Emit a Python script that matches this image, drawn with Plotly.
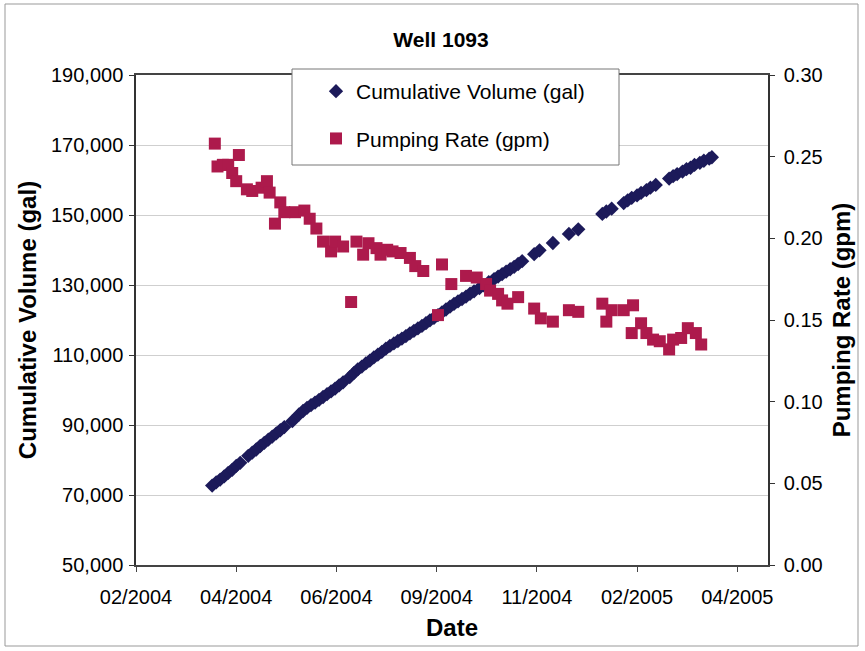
import plotly.graph_objects as go

# Cumulative metered volume (gal) at each reading date
volume_dates = [
    "2004-03-29", "2004-04-01", "2004-04-04", "2004-04-07", "2004-04-10", "2004-04-13",
    "2004-04-16", "2004-04-19", "2004-04-25", "2004-04-28", "2004-05-01", "2004-05-04",
    "2004-05-07", "2004-05-10", "2004-05-13", "2004-05-16", "2004-05-19", "2004-05-22",
    "2004-05-28", "2004-06-02", "2004-06-05", "2004-06-08", "2004-06-11", "2004-06-14",
    "2004-06-17", "2004-06-20", "2004-06-23", "2004-06-26", "2004-06-29", "2004-07-02",
    "2004-07-05", "2004-07-10", "2004-07-13", "2004-07-16", "2004-07-19", "2004-07-22",
    "2004-07-25", "2004-07-28", "2004-07-31", "2004-08-03", "2004-08-06", "2004-08-09",
    "2004-08-12", "2004-08-15", "2004-08-18", "2004-08-21", "2004-08-24", "2004-08-27",
    "2004-08-30", "2004-09-02", "2004-09-05", "2004-09-08", "2004-09-11", "2004-09-14",
    "2004-09-17", "2004-09-20", "2004-09-23", "2004-09-26", "2004-09-29", "2004-10-02",
    "2004-10-05", "2004-10-08", "2004-10-11", "2004-10-15", "2004-10-18", "2004-10-22",
    "2004-10-26", "2004-10-29", "2004-11-01", "2004-11-04", "2004-11-07", "2004-11-10",
    "2004-11-13", "2004-11-16", "2004-11-25", "2004-11-29", "2004-12-09", "2004-12-21",
    "2004-12-28", "2005-01-15", "2005-01-18", "2005-01-22", "2005-01-31", "2005-02-03",
    "2005-02-06", "2005-02-10", "2005-02-13", "2005-02-17", "2005-02-20", "2005-02-24",
    "2005-03-06", "2005-03-09", "2005-03-12", "2005-03-16", "2005-03-19", "2005-03-22",
    "2005-03-25", "2005-03-29", "2005-04-01", "2005-04-05", "2005-04-07",
]
volume_gal = [
    72700, 73600, 74400, 75300, 76300, 77200,
    78300, 79200, 81200, 82100, 83000, 84000,
    84900, 85800, 86700, 87600, 88500, 89400,
    91100, 93000, 94000, 94900, 95700, 96400,
    97200, 98000, 98800, 99600, 100400, 101300,
    102200, 103700, 104800, 105900, 106700, 107600,
    108400, 109300, 110100, 110900, 111800, 112600,
    113300, 114000, 114700, 115400, 116200, 116900,
    117600, 118300, 119100, 119900, 120600, 121400,
    122200, 123000, 123800, 124600, 125300, 126000,
    126700, 127500, 128200, 129100, 129900, 130800,
    131700, 132400, 133100, 133800, 134500, 135200,
    136000, 136800, 138800, 139900, 142000, 144600,
    145900, 150300, 151000, 151800, 153400, 154200,
    154900, 155600, 156300, 157100, 157800, 158600,
    160400, 161100, 161700, 162400, 163100, 163500,
    164300, 164900, 165500, 166100, 166500,
]

# Average pumping rate (gpm) between readings
rate_dates = [
    "2004-03-31", "2004-04-02", "2004-04-06", "2004-04-10", "2004-04-13", "2004-04-16",
    "2004-04-18", "2004-04-24", "2004-04-28", "2004-05-05", "2004-05-09", "2004-05-11",
    "2004-05-15", "2004-05-19", "2004-05-22", "2004-05-30", "2004-06-06", "2004-06-10",
    "2004-06-15", "2004-06-20", "2004-06-26", "2004-06-29", "2004-07-05", "2004-07-11",
    "2004-07-15", "2004-07-20", "2004-07-24", "2004-07-30", "2004-08-02", "2004-08-07",
    "2004-08-11", "2004-08-17", "2004-08-24", "2004-08-28", "2004-09-03", "2004-09-14",
    "2004-09-17", "2004-09-24", "2004-10-05", "2004-10-13", "2004-10-20", "2004-10-23",
    "2004-10-29", "2004-11-01", "2004-11-05", "2004-11-13", "2004-11-25", "2004-11-30",
    "2004-12-09", "2004-12-21", "2004-12-28", "2005-01-15", "2005-01-18", "2005-01-22",
    "2005-01-31", "2005-02-06", "2005-02-07", "2005-02-13", "2005-02-17", "2005-02-22",
    "2005-02-27", "2005-03-06", "2005-03-09", "2005-03-15", "2005-03-20", "2005-03-26",
    "2005-03-30",
]
rate_gpm = [
    0.258, 0.244, 0.245, 0.245, 0.240, 0.235,
    0.251, 0.230, 0.229, 0.231, 0.235, 0.228,
    0.209, 0.222, 0.216, 0.216, 0.217, 0.212,
    0.206, 0.198, 0.192, 0.198, 0.195, 0.161,
    0.198, 0.190, 0.197, 0.194, 0.190, 0.193,
    0.192, 0.191, 0.188, 0.183, 0.180, 0.153,
    0.184, 0.172, 0.177, 0.176, 0.172, 0.168,
    0.166, 0.162, 0.160, 0.164, 0.157, 0.151,
    0.149, 0.156, 0.155, 0.160, 0.149, 0.156,
    0.156, 0.142, 0.159, 0.148, 0.142, 0.138,
    0.137, 0.132, 0.138, 0.139, 0.145, 0.142,
    0.135,
]

date_start, date_end = "2004-02-01", "2005-05-19"
tick_step_days = 75
volume_range = [50000, 190000]
volume_step = 20000
rate_range = [0, 0.30]
rate_step = 0.05

FONT = "Liberation Sans, Arial, sans-serif"
NAVY = "#1c1a5a"
CRIMSON = "#ad1a4c"

fig = go.Figure()
fig.add_trace(go.Scatter(
    x=volume_dates, y=volume_gal, mode="markers", name="Cumulative Volume (gal)",
    marker=dict(symbol="diamond", size=11, color=NAVY),
    legendgroup="v", yaxis="y",
))
fig.add_trace(go.Scatter(
    x=rate_dates, y=rate_gpm, mode="markers", name="Pumping Rate (gpm)",
    marker=dict(symbol="square", size=12, color=CRIMSON),
    legendgroup="r", yaxis="y2",
))

L, R, T, B = 136, 97, 75, 86
W, H = 865, 651
pw, ph = W - L - R, H - T - B

def px_x(x):
    return (x - L) / pw

def px_y(y):
    return (H - B - y) / ph

fig.update_layout(
    width=W, height=H,
    margin=dict(l=L, r=R, t=T, b=B),
    paper_bgcolor="white", plot_bgcolor="white",
    font=dict(family=FONT, size=20, color="black"),
    title=dict(text="<b>Well 1093</b>", x=441 / W, xanchor="center",
               y=1 - 40 / H, yanchor="middle", font=dict(size=21)),
    showlegend=True,
    legend=dict(
        x=px_x(316), xanchor="left", y=px_y(71), yanchor="top",
        bgcolor="rgba(0,0,0,0)", borderwidth=0,
        font=dict(size=21), traceorder="grouped", tracegroupgap=17,
    ),
    xaxis=dict(
        type="date", range=[date_start, date_end],
        tick0=date_start, dtick=tick_step_days * 86400000, tickformat="%m/%Y",
        showline=True, linecolor="#444", linewidth=1.5, mirror=True,
        ticks="outside", ticklen=5, tickcolor="#444",
        showgrid=False, zeroline=False, ticklabelstandoff=8,
        title=dict(text="<b>Date</b>", standoff=12),
    ),
    yaxis=dict(
        range=volume_range, tick0=volume_range[0], dtick=volume_step, tickformat=",",
        showline=True, linecolor="#333", linewidth=1.5,
        ticks="outside", ticklen=5, tickcolor="#333",
        showgrid=True, gridcolor="#cfcfcf", gridwidth=1, zeroline=False,
        ticklabelstandoff=2,
        title=dict(text="<b>Cumulative Volume (gal)</b>", standoff=8),
    ),
    yaxis2=dict(
        range=rate_range, tick0=0, dtick=rate_step, tickformat=".2f",
        overlaying="y", side="right",
        showline=True, linecolor="#333", linewidth=1.5,
        ticks="outside", ticklen=5, tickcolor="#333",
        showgrid=False, zeroline=False, ticklabelstandoff=5,
        title=dict(text="<b>Pumping Rate (gpm)</b>", standoff=12),
    ),
    shapes=[
        # legend box
        dict(type="rect", xref="paper", yref="paper",
             x0=px_x(292), x1=px_x(619), y0=px_y(165), y1=px_y(69),
             fillcolor="white", line=dict(color="#777", width=1), layer="above"),
        # outer chart frame
        dict(type="rect", xref="paper", yref="paper",
             x0=px_x(5), x1=px_x(858), y0=px_y(646), y1=px_y(4),
             line=dict(color="#999", width=1), fillcolor="rgba(0,0,0,0)", layer="below"),
    ],
)

fig.write_html("out.html")
